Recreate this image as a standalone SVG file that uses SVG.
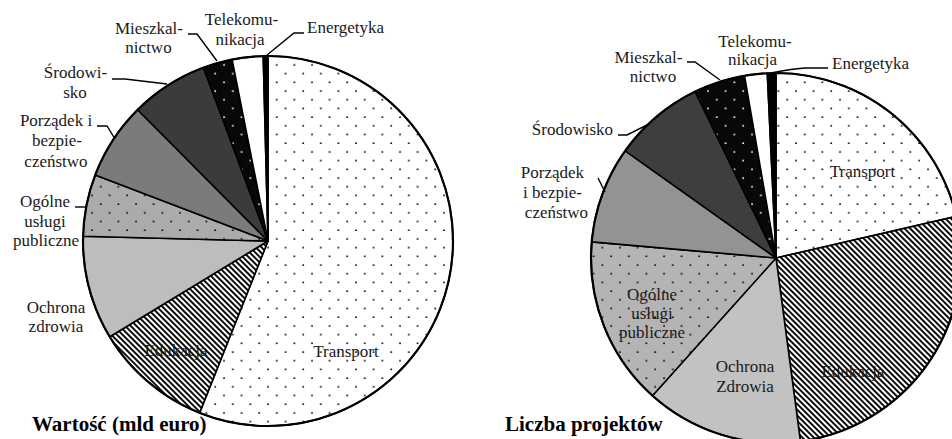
<svg xmlns="http://www.w3.org/2000/svg" width="952" height="439" viewBox="0 0 952 439">
<defs>
<pattern id="dotsW" patternUnits="userSpaceOnUse" width="17.6" height="17.4">
<rect width="17.6" height="17.4" fill="#ffffff"/>
<circle cx="4" cy="4" r="0.95" fill="#000"/>
<circle cx="12.8" cy="12.7" r="0.95" fill="#000"/>
</pattern>
<pattern id="dotsG" patternUnits="userSpaceOnUse" width="17.6" height="17.4">
<rect width="17.6" height="17.4" fill="#ababab"/>
<circle cx="4" cy="4" r="0.95" fill="#000"/>
<circle cx="12.8" cy="12.7" r="0.95" fill="#000"/>
</pattern>
<pattern id="dotsG2" patternUnits="userSpaceOnUse" width="17.6" height="17.4">
<rect width="17.6" height="17.4" fill="#b4b4b4"/>
<circle cx="4" cy="4" r="0.95" fill="#000"/>
<circle cx="12.8" cy="12.7" r="0.95" fill="#000"/>
</pattern>
<pattern id="dotsB" patternUnits="userSpaceOnUse" width="17.6" height="17.4">
<rect width="17.6" height="17.4" fill="#080808"/>
<circle cx="4" cy="4" r="0.95" fill="#fff"/>
<circle cx="12.8" cy="12.7" r="0.95" fill="#fff"/>
</pattern>
<pattern id="hatch" patternUnits="userSpaceOnUse" width="4" height="4" patternTransform="rotate(45)">
<rect width="4" height="4" fill="#ffffff"/>
<line x1="0" y1="2" x2="4" y2="2" stroke="#000" stroke-width="1.9"/>
</pattern>
</defs>
<style>
.s{stroke:#000;stroke-width:1.6;stroke-linejoin:round}
.rim{fill:none;stroke:#000;stroke-width:2.2}
.t{font-size:17px;fill:#1a1a1a;text-anchor:middle}
.ts{text-anchor:start}
.te{text-anchor:end}
.h{font-size:21px;font-weight:bold;fill:#000}
.ld{fill:none;stroke:#000;stroke-width:1.4}
</style>
<rect width="952" height="439" fill="#ffffff"/>

<g font-family="Liberation Serif, Tinos, Times New Roman, DejaVu Serif, serif">
<!-- LEFT PIE -->
<g id="left-pie">
<g id="L-transport">
<path class="s" fill="url(#dotsW)" d="M268,241 L268,56 A185,185 0 1 1 199.6,412.9 Z"/>
<text class="t" x="346" y="357">Transport</text>
</g>
<g id="L-edukacja">
<path class="s" fill="url(#hatch)" d="M268,241 L199.6,412.9 A185,185 0 0 1 109.8,336.8 Z"/>
<text class="t" x="176" y="356">Edukacja</text>
</g>
<g id="L-ochrona">
<path class="s" fill="#bdbdbd" d="M268,241 L109.8,336.8 A185,185 0 0 1 83.1,236.2 Z"/>
<text class="t" x="56" y="313">Ochrona</text>
<text class="t" x="56" y="332">zdrowia</text>
</g>
<g id="L-ogolne">
<path class="s" fill="url(#dotsG)" d="M268,241 L83.1,236.2 A185,185 0 0 1 95.2,175.0 Z"/>
<text class="t" x="45" y="207">Ogólne</text>
<text class="t" x="45" y="227">usługi</text>
<text class="t" x="46" y="246">publiczne</text>
</g>
<g id="L-porzadek">
<path class="s" fill="#7b7b7b" d="M268,241 L95.2,175.0 A185,185 0 0 1 137.6,109.7 Z"/>
<text class="t" x="56" y="126">Porządek i</text>
<text class="t" x="57" y="146">bezpie-</text>
<text class="t" x="56" y="167">czeństwo</text>
</g>
<g id="L-srodowisko">
<path class="s" fill="#3b3b3b" d="M268,241 L137.6,109.7 A185,185 0 0 1 203.5,67.6 Z"/>
<text class="t" x="75.5" y="78">Środowi-</text>
<text class="t" x="75" y="98">sko</text>
</g>
<g id="L-mieszkalnictwo">
<path class="s" fill="url(#dotsB)" d="M268,241 L203.5,67.6 A185,185 0 0 1 232.1,59.5 Z"/>
<text class="t" x="149" y="34">Mieszkal-</text>
<text class="t" x="148.5" y="53">nictwo</text>
</g>
<g id="L-telekomunikacja">
<path class="s" fill="#ffffff" d="M268,241 L232.1,59.5 A185,185 0 0 1 263.2,56.1 Z"/>
<text class="t" x="241.5" y="25">Telekomu-</text>
<text class="t" x="240" y="45">nikacja</text>
</g>
<g id="L-energetyka">
<path class="s" fill="#000000" d="M268,241 L263.2,56.1 A185,185 0 0 1 268,56 Z"/>
<text class="t ts" x="307" y="33">Energetyka</text>
</g>
<circle class="rim" cx="268" cy="241" r="185"/>
<text id="L-title" class="h" x="32" y="431">Wartość (mld euro)</text>
</g>

<!-- RIGHT PIE -->
<g id="right-pie">
<g id="R-transport">
<path class="s" fill="url(#dotsW)" d="M776,258 L776,73 A185,185 0 0 1 956.26,216.38 Z"/>
<text class="t" x="862.5" y="177">Transport</text>
</g>
<g id="R-edukacja">
<path class="s" fill="url(#hatch)" d="M776,258 L956.26,216.38 A185,185 0 0 1 800.47,441.38 Z"/>
<text class="t" x="853" y="377">Edukacja</text>
</g>
<g id="R-ochrona">
<path class="s" fill="#c2c2c2" d="M776,258 L800.47,441.38 A185,185 0 0 1 652.45,395.70 Z"/>
<text class="t" x="745" y="372">Ochrona</text>
<text class="t" x="745" y="392">Zdrowia</text>
</g>
<g id="R-ogolne">
<path class="s" fill="url(#dotsG2)" d="M776,258 L652.45,395.70 A185,185 0 0 1 591.70,241.88 Z"/>
<text class="t" x="652" y="300">Ogólne</text>
<text class="t" x="652" y="319">usługi</text>
<text class="t" x="652" y="338">publiczne</text>
</g>
<g id="R-porzadek">
<path class="s" fill="#939393" d="M776,258 L591.70,241.88 A185,185 0 0 1 625.20,150.83 Z"/>
<text class="t" x="552.5" y="178">Porządek</text>
<text class="t" x="552.5" y="198">i bezpie-</text>
<text class="t" x="556.5" y="218">czeństwo</text>
</g>
<g id="R-srodowisko">
<path class="s" fill="#3e3e3e" d="M776,258 L625.20,150.83 A185,185 0 0 1 695.19,91.58 Z"/>
<text class="t te" x="613" y="135">Środowisko</text>
</g>
<g id="R-mieszkalnictwo">
<path class="s" fill="url(#dotsB)" d="M776,258 L695.19,91.58 A185,185 0 0 1 744.51,75.70 Z"/>
<text class="t" x="648.5" y="63">Mieszkal-</text>
<text class="t" x="653" y="82">nictwo</text>
</g>
<g id="R-telekomunikacja">
<path class="s" fill="#ffffff" d="M776,258 L744.51,75.70 A185,185 0 0 1 767.28,73.21 Z"/>
<text class="t" x="755" y="47">Telekomu-</text>
<text class="t" x="752.5" y="65">nikacja</text>
</g>
<g id="R-energetyka">
<path class="s" fill="#000000" d="M776,258 L767.28,73.21 A185,185 0 0 1 776,73 Z"/>
<text class="t ts" x="832" y="69">Energetyka</text>
</g>
<circle class="rim" cx="776" cy="258" r="185"/>
<text id="R-title" class="h" x="505" y="431">Liczba projektów</text>
</g>
</g>

<!-- CONNECTORS (leader lines) -->
<g id="connectors">
<polyline class="ld" points="188,34 197,34 217,61"/>
<polyline class="ld" points="304,33 294,33 267,55"/>
<polyline class="ld" points="112,79 125,79 167,84"/>
<polyline class="ld" points="97,126 107,126 115,139"/>
<polyline class="ld" points="75,207 86,207"/>
<polyline class="ld" points="687,62 695,62 720,80"/>
<path class="ld" d="M828,68 L805,68 Q790,69 771,73"/>
<polyline class="ld" points="618,135 627,135 647,125"/>
<polyline class="ld" points="598,178 605,192"/>
</g>
</svg>
